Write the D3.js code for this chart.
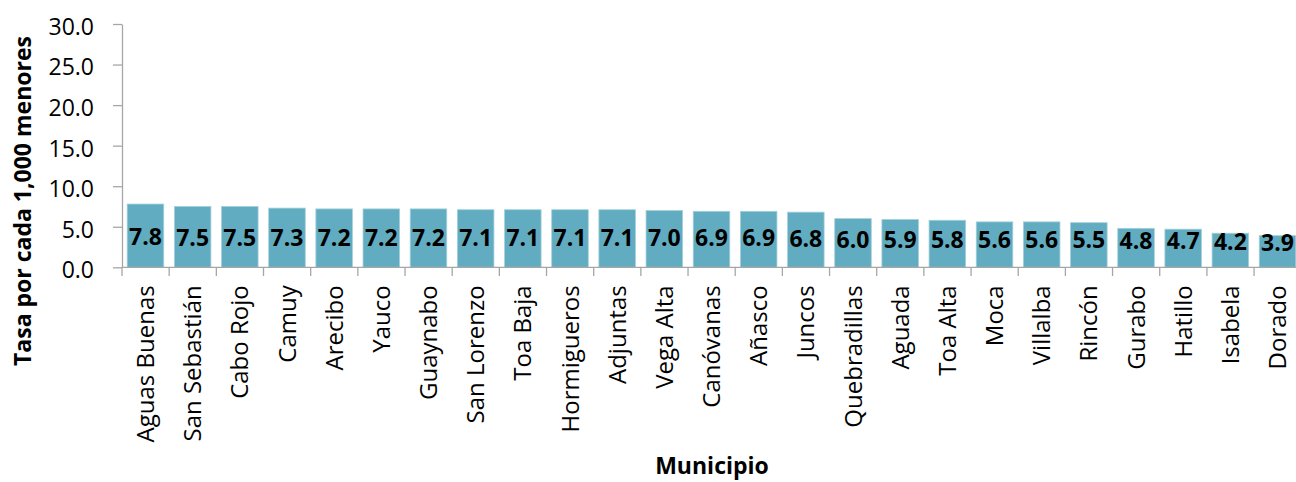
<!DOCTYPE html>
<html lang="es">
<head>
    <meta charset="UTF-8">
    <title>Tasa por cada 1,000 menores por municipio</title>
    <script src="https://d3js.org/d3.v7.min.js"></script>
    <style>
        body { margin: 0; background: #fff; }
        svg text { font-family: "Open Sans", "DejaVu Sans", sans-serif; fill: #000; }
        .axis path, .axis line { stroke: #a6a6a6; stroke-width: 1.3; }
    </style>
</head>
<body>
    <svg id="chart"></svg>

    <script>
        // Municipios y tasas
        var municipios = ['Aguas Buenas', 'San Sebastián', 'Cabo Rojo', 'Camuy', 'Arecibo', 'Yauco',
            'Guaynabo', 'San Lorenzo', 'Toa Baja', 'Hormigueros', 'Adjuntas', 'Vega Alta', 'Canóvanas',
            'Añasco', 'Juncos', 'Quebradillas', 'Aguada', 'Toa Alta', 'Moca', 'Villalba', 'Rincón',
            'Gurabo', 'Hatillo', 'Isabela', 'Dorado'];
        var tasas = [7.8, 7.5, 7.5, 7.3, 7.2, 7.2, 7.2, 7.1, 7.1, 7.1, 7.1, 7.0, 6.9,
            6.9, 6.8, 6.0, 5.9, 5.8, 5.6, 5.6, 5.5, 4.8, 4.7, 4.2, 3.9];
        var yTicks = [0, 5, 10, 15, 20, 25, 30];

        var data = municipios.map(function (m, i) { return { municipio: m, tasa: tasas[i] }; });

        var W = 1296, H = 482;
        var x0 = 122, x1 = 1301, yTop = 24, yBottom = 267.3;

        var svg = d3.select('#chart')
            .attr('width', W)
            .attr('height', H);

        var xScale = d3.scaleBand()
            .domain(municipios)
            .range([x0, x1])
            .paddingInner(0.225)
            .paddingOuter(0.11);

        var yScale = d3.scaleLinear()
            .domain([0, 30])
            .range([yBottom, yTop]);

        // bars
        svg.selectAll('rect.bar')
            .data(data)
            .enter()
            .append('rect')
            .attr('class', 'bar')
            .attr('x', d => xScale(d.municipio))
            .attr('y', d => yScale(d.tasa))
            .attr('width', xScale.bandwidth())
            .attr('height', d => yScale(0) - yScale(d.tasa))
            .style('fill', '#61acc0')
            .style('stroke', '#a3d0dc')
            .style('stroke-width', 0.8);

        // y axis
        svg.append('g')
            .attr('class', 'axis')
            .attr('transform', 'translate(' + x0 + ',0)')
            .call(d3.axisLeft(yScale).tickValues(yTicks).tickFormat(d3.format('.1f'))
                .tickSize(9).tickSizeOuter(0).tickPadding(19))
            .call(g => g.selectAll('text').style('font-size', '23px').attr('dy', '0.45em'));

        // x axis: ticks between categories
        var xAxis = svg.append('g')
            .attr('class', 'axis')
            .attr('transform', 'translate(0,' + yBottom + ')');
        xAxis.append('line')
            .attr('x1', x0).attr('x2', W)
            .attr('y1', 0).attr('y2', 0);
        var step = xScale.step();
        xAxis.selectAll('line.tick')
            .data(municipios)
            .enter()
            .append('line')
            .attr('class', 'tick')
            .attr('x1', (d, i) => x0 + i * step)
            .attr('x2', (d, i) => x0 + i * step)
            .attr('y1', 0).attr('y2', 8.7);
        xAxis.selectAll('text')
            .data(municipios)
            .enter()
            .append('text')
            .attr('transform', d => 'translate(' + (xScale(d) + xScale.bandwidth() / 2) + ',18) rotate(-90)')
            .attr('dy', '0.36em')
            .style('text-anchor', 'end')
            .style('font-size', '24px')
            .text(d => d);

        // value labels (Excel places them a bit above centre on short bars)
        svg.selectAll('text.val')
            .data(data)
            .enter()
            .append('text')
            .attr('class', 'val')
            .attr('x', d => xScale(d.municipio) + xScale.bandwidth() / 2)
            .attr('y', d => yScale(2.43 + 0.168 * d.tasa))
            .attr('dy', '0.36em')
            .style('text-anchor', 'middle')
            .style('font-size', '23px')
            .style('font-weight', 'bold')
            .text(d => d3.format('.1f')(d.tasa));

        // axis titles
        svg.append('text')
            .attr('transform', 'translate(23,' + 201 + ') rotate(-90)')
            .attr('dy', '0.35em')
            .style('text-anchor', 'middle')
            .style('font-size', '23px')
            .style('font-weight', 'bold')
            .text('Tasa por cada 1,000 menores');

        svg.append('text')
            .attr('x', 712)
            .attr('y', 466)
            .attr('dy', '0.35em')
            .style('text-anchor', 'middle')
            .style('font-size', '23px')
            .style('font-weight', 'bold')
            .text('Municipio');
    </script>
</body>
</html>
